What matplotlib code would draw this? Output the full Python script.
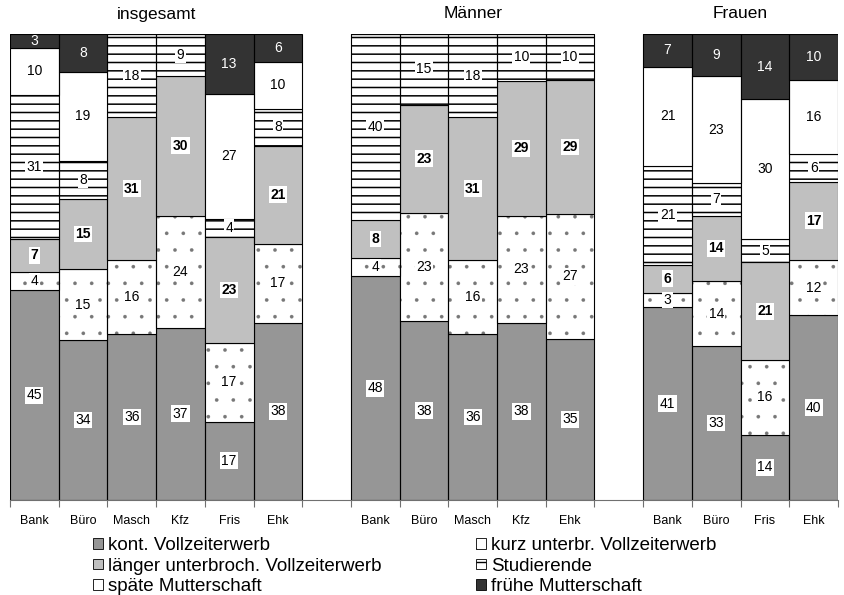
import matplotlib as mpl
import matplotlib.pyplot as plt
from matplotlib.patches import Patch
import numpy as np

plt.rcParams['font.family'] = ['Liberation Sans', 'DejaVu Sans']
plt.rcParams['hatch.linewidth'] = 1.0

groups = ['insgesamt', 'Männer', 'Frauen']
cats_ges = ['Bank', 'Büro', 'Masch', 'Kfz', 'Fris', 'Ehk']
cats_m = ['Bank', 'Büro', 'Masch', 'Kfz', 'Ehk']
cats_f = ['Bank', 'Büro', 'Fris', 'Ehk']

series = ['kont. Vollzeiterwerb', 'kurz unterbr. Vollzeiterwerb',
          'länger unterbroch. Vollzeiterwerb', 'Studierende',
          'späte Mutterschaft', 'frühe Mutterschaft']

# werte in % (insgesamt | Männer | Frauen), von unten nach oben gestapelt
kont    = [45, 34, 36, 37, 17, 38,  48, 38, 36, 38, 35,  41, 33, 14, 40]
kurz    = [4, 15, 16, 24, 17, 17,   4, 23, 16, 23, 27,   3, 14, 16, 12]
laenger = [7, 15, 31, 30, 23, 21,   8, 23, 31, 29, 29,   6, 14, 21, 17]
stud    = [31, 8, 18, 9, 4, 8,      40, 15, 18, 10, 10,  21, 7, 5, 6]
spaet   = [10, 19, 0, 0, 27, 10,    0, 0, 0, 0, 0,       21, 23, 30, 16]
frueh   = [3, 8, 0, 0, 13, 6,       0, 0, 0, 0, 0,       7, 9, 14, 10]

# slot positions, one empty slot between groups
group_cats = [cats_ges, cats_m, cats_f]
xpos = []
start = 0
group_centers = []
for cats in group_cats:
    xs = list(range(start, start + len(cats)))
    xpos += xs
    group_centers.append((xs[0] + xs[-1]) / 2)
    start += len(cats) + 1
xpos = np.array(xpos)
all_cats = cats_ges + cats_m + cats_f

data = np.array([kont, kurz, laenger, stud, spaet, frueh], dtype=float)
pct = data / data.sum(axis=0) * 100   # 100%-Säulen

styles = [
    dict(color='#969696', hatch=None, hc='#969696', hlw=1.0),
    dict(color='white', hatch='.', hc='#777777', hlw=0.2),
    dict(color='#c0c0c0', hatch=None, hc='#c0c0c0', hlw=1.0),
    dict(color='white', hatch='--', hc='black', hlw=1.1),
    dict(color='white', hatch=None, hc='white', hlw=1.0),
    dict(color='#333333', hatch=None, hc='#333333', hlw=1.0),
]

fig = plt.figure(figsize=(8.45, 5.95), dpi=100)
ax = fig.add_axes([10/845, 1 - 500/595, 828/845, 466/595])

bottom = np.zeros(len(xpos))
for i, st in enumerate(styles):
    h = pct[i]
    with mpl.rc_context({'hatch.linewidth': st['hlw']}):
        ax.bar(xpos, h, bottom=bottom, width=1, color=st['color'],
               edgecolor=st['hc'], hatch=st['hatch'], linewidth=0)
    ax.bar(xpos, h, bottom=bottom, width=1, fill=False,
           edgecolor='black', linewidth=0.8)
    for x, b, hh, v in zip(xpos, bottom, h, data[i]):
        if v == 0:
            continue
        if i == 5:
            ax.text(x, b + hh / 2, f'{v:.0f}', ha='center', va='center',
                    fontsize=10, color='white')
        else:
            ax.text(x, b + hh / 2, f'{v:.0f}', ha='center', va='center',
                    fontsize=10, fontweight='bold' if i == 2 else 'normal',
                    bbox=dict(boxstyle='square,pad=0.1', fc='white', ec='none'))
    bottom += h

ax.set_xlim(-0.5, xpos[-1] + 0.5)
ax.set_ylim(0, 100)
for s in ['top', 'right', 'left']:
    ax.spines[s].set_visible(False)
ax.spines['bottom'].set_color('#707070')
ax.set_yticks([])
ax.set_xticks(np.arange(-0.5, xpos[-1] + 1, 1))
ax.set_xticklabels([])
ax.tick_params(axis='x', which='major', length=5, color='#707070', direction='out')
ax.set_xticks(xpos, minor=True)
ax.set_xticklabels(all_cats, minor=True, fontsize=9)
ax.tick_params(axis='x', which='minor', length=0, pad=11)

for g, c in zip(groups, group_centers):
    xf = ax.transData.transform((c, 0))[0] / fig.bbox.width
    fig.text(xf, 1 - 14/595, g, ha='center', va='center', fontsize=12.5)

handles = []
for name, st in zip(series, styles):
    handles.append(Patch(facecolor=st['color'], edgecolor='black',
                         hatch=st['hatch'], linewidth=0.6, label=name))

order1 = [0, 2, 4]
order2 = [1, 3, 5]
kw = dict(frameon=False, fontsize=13.5, handlelength=0.5, handleheight=0.5,
          handletextpad=0.3, labelspacing=0.18, borderpad=0, loc='upper left')
leg1 = fig.legend([handles[i] for i in order1], [series[i] for i in order1],
                  bbox_to_anchor=(84/845, 1 - 528/595), **kw)
leg2 = fig.legend([handles[i] for i in order2], [series[i] for i in order2],
                  bbox_to_anchor=(467/845, 1 - 528/595), **kw)

fig.savefig('out.png', dpi=100)
